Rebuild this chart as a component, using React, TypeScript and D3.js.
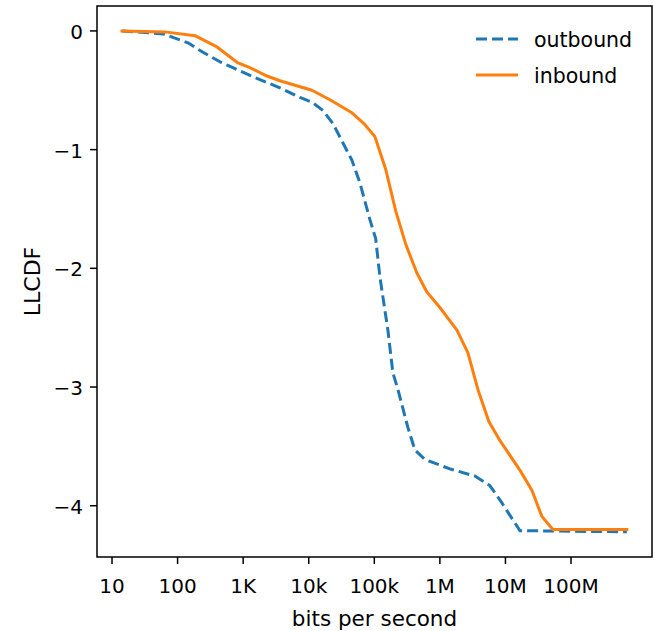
import React from "react";
import * as d3 from "d3";

const outboundX = [14.2, 60, 144, 244, 443, 699, 1623, 3638, 7345, 11190, 16450, 23390, 45600, 60300, 85700, 105000, 121600, 161000, 192000, 229000, 325000, 416000, 590000, 1.42e6, 3.42e6, 5.78e6, 8.22e6, 1.66e7, 7.1e8];
const outboundY = [0, -0.025, -0.1, -0.18, -0.26, -0.31, -0.4, -0.48, -0.56, -0.6, -0.67, -0.78, -1.09, -1.28, -1.59, -1.75, -2.07, -2.52, -2.88, -3.02, -3.34, -3.53, -3.61, -3.69, -3.75, -3.83, -3.95, -4.21, -4.22];

const inboundX = [14.2, 64.3, 184, 399, 834, 1271, 2307, 3638, 7345, 11190, 21050, 45600, 69400, 102000, 150000, 213000, 303000, 446000, 634000, 1.0e6, 1.82e6, 2.67e6, 3.8e6, 5.58e6, 8.22e6, 1.66e7, 2.53e7, 3.59e7, 5.28e7, 7.1e8];
const inboundY = [0, -0.008, -0.04, -0.135, -0.27, -0.31, -0.38, -0.42, -0.47, -0.5, -0.58, -0.69, -0.78, -0.89, -1.17, -1.52, -1.8, -2.04, -2.2, -2.33, -2.52, -2.71, -3.02, -3.29, -3.45, -3.7, -3.87, -4.09, -4.2, -4.2];

const xTickValues = [1e1, 1e2, 1e3, 1e4, 1e5, 1e6, 1e7, 1e8];
const xTickLabels = ["10", "100", "1K", "10k", "100k", "1M", "10M", "100M"];
const yTickValues = [0, -1, -2, -3, -4];

const seriesNames = ["outbound", "inbound"];
const seriesColors = ["#1f77b4", "#ff7f0e"];

export default function App() {
  const W = 656, H = 631;
  const left = 97, right = 652, top = 6, bottom = 557;
  const x = d3.scaleLog().domain([Math.pow(10, 0.771), Math.pow(10, 9.235)]).range([left, right]);
  const y = d3.scaleLinear().domain([0.21, -4.432]).range([top, bottom]);

  const line = d3.line<[number, number]>().x(d => x(d[0])).y(d => y(d[1]));
  const outData: [number, number][] = outboundX.map((v, i) => [v, outboundY[i]]);
  const inData: [number, number][] = inboundX.map((v, i) => [v, inboundY[i]]);
  const fmtY = (v: number) => (v < 0 ? "\u2212" + Math.abs(v) : String(v));
  const font = "DejaVu Sans, sans-serif";

  return (
    <svg width={W} height={H} style={{ position: "absolute", left: 0, top: 0, background: "#fff" }} fontFamily={font}>
      <defs>
        <clipPath id="plotclip">
          <rect x={left} y={top} width={right - left} height={bottom - top} />
        </clipPath>
      </defs>
      <g clipPath="url(#plotclip)">
        <path d={line(outData) || ""} fill="none" stroke={seriesColors[0]} strokeWidth={3} strokeDasharray="11,5" strokeLinejoin="round" />
        <path d={line(inData) || ""} fill="none" stroke={seriesColors[1]} strokeWidth={3} strokeLinejoin="round" strokeLinecap="square" />
      </g>
      <rect x={left} y={top} width={right - left} height={bottom - top} fill="none" stroke="#000" strokeWidth={1.5} />
      {xTickValues.map((v, i) => (
        <g key={"xt" + i}>
          <line x1={x(v)} x2={x(v)} y1={bottom} y2={bottom + 7} stroke="#000" strokeWidth={1.5} />
          <text x={x(v)} y={593} textAnchor="middle" fontSize={20}>{xTickLabels[i]}</text>
        </g>
      ))}
      {yTickValues.map((v, i) => (
        <g key={"yt" + i}>
          <line x1={left - 7} x2={left} y1={y(v)} y2={y(v)} stroke="#000" strokeWidth={1.5} />
          <text x={83} y={y(v) + 8} textAnchor="end" fontSize={20}>{fmtY(v)}</text>
        </g>
      ))}
      <text x={(left + right) / 2} y={626} textAnchor="middle" fontSize={21.5}>bits per second</text>
      <text transform={`translate(40,${(top + bottom) / 2}) rotate(-90)`} textAnchor="middle" fontSize={22}>LLCDF</text>
      {seriesNames.map((n, i) => (
        <g key={"lg" + i}>
          <line x1={476} x2={518} y1={39 + i * 36} y2={39 + i * 36} stroke={seriesColors[i]} strokeWidth={3} strokeDasharray={i === 0 ? "11,5" : undefined} />
          <text x={534} y={39 + i * 36 + 7.5} fontSize={20.5}>{n}</text>
        </g>
      ))}
    </svg>
  );
}
